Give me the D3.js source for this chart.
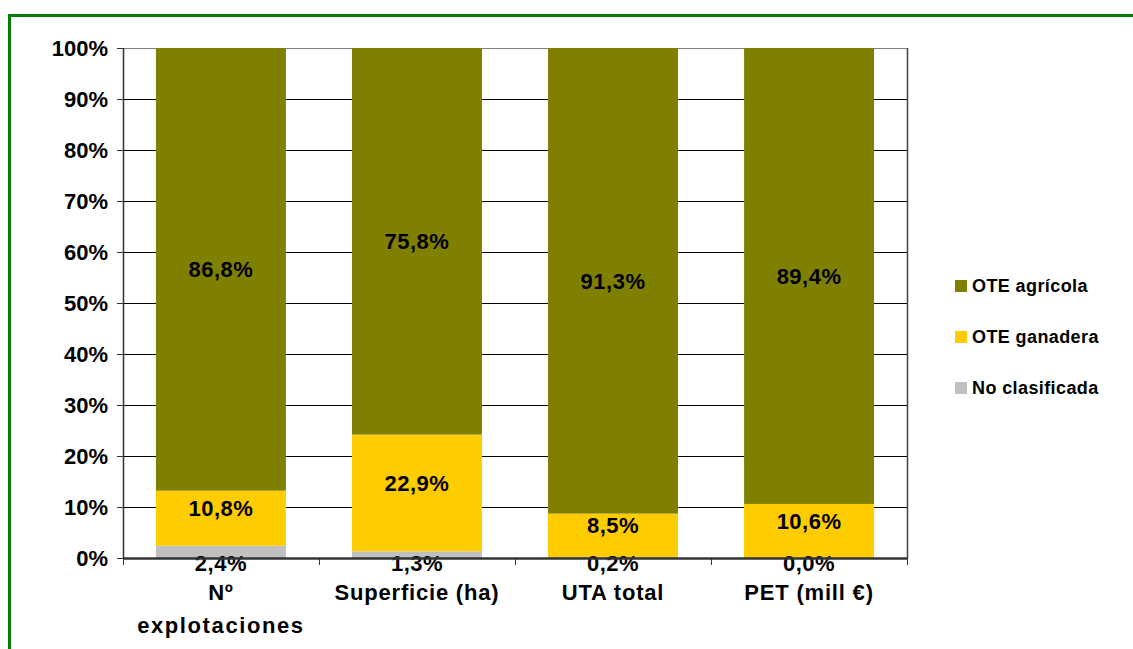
<!DOCTYPE html>
<html>
<head>
<meta charset="utf-8">
<script src="https://cdn.jsdelivr.net/npm/d3@7.9.0/dist/d3.min.js"></script>
<style>
  body { margin: 0; background: #fff; }
  svg { display: block; font-family: "Liberation Sans", Arial, sans-serif; font-weight: bold; }
</style>
</head>
<body>
<svg id="chart" width="1133" height="649"></svg>
<script>
// chart data
const categories = ["Nº explotaciones", "Superficie (ha)", "UTA total", "PET (mill €)"];
const agricola = [86.8, 75.8, 91.3, 89.4];
const ganadera = [10.8, 22.9, 8.5, 10.6];
const noClasificada = [2.4, 1.3, 0.2, 0.0];
const seriesNames = ["No clasificada", "OTE ganadera", "OTE agrícola"];
const seriesColors = ["#c0c0c0", "#ffcc00", "#808000"];
const yTicks = [0, 10, 20, 30, 40, 50, 60, 70, 80, 90, 100];

const rows = categories.map((c, i) => ({
  cat: c,
  "No clasificada": noClasificada[i],
  "OTE ganadera": ganadera[i],
  "OTE agrícola": agricola[i]
}));

const W = 1133, H = 649;
const margin = { top: 48, right: 226, bottom: 91, left: 123 };
const w = W - margin.left - margin.right;
const h = H - margin.top - margin.bottom;

const svg = d3.select("#chart");

// green frame (top and left only)
svg.append("path")
  .attr("d", `M9.5,${H} L9.5,15.5 L${W},15.5`)
  .attr("fill", "none")
  .attr("stroke", "#008000")
  .attr("stroke-width", 3);

const g = svg.append("g").attr("transform", `translate(${margin.left},${margin.top})`);

const x = d3.scaleBand().domain(categories).range([0, w]).paddingInner(0.337).paddingOuter(0.168);
const y = d3.scaleLinear().domain([0, 100]).range([h, 0]);

// gridlines
g.selectAll(".grid").data(yTicks.filter(d => d > 0)).join("line")
  .attr("x1", 0).attr("x2", w)
  .attr("y1", d => Math.round(y(d)) + 0.5).attr("y2", d => Math.round(y(d)) + 0.5)
  .attr("stroke", d => d === 100 ? "#808080" : "#000")
  .attr("stroke-width", 1);

// right border of plot
g.append("line")
  .attr("x1", w + 0.5).attr("x2", w + 0.5).attr("y1", 0).attr("y2", h)
  .attr("stroke", "#404040").attr("stroke-width", 1.5);

// stacked bars
const stack = d3.stack().keys(seriesNames);
const stacked = stack(rows);
const fmt = v => d3.format(".1f")(v).replace(".", ",") + "%";

stacked.forEach((layer, li) => {
  g.append("g").selectAll("rect").data(layer).join("rect")
    .attr("x", d => x(d.data.cat))
    .attr("width", x.bandwidth())
    .attr("y", d => y(d[1]))
    .attr("height", d => y(d[0]) - y(d[1]))
    .attr("fill", seriesColors[li]);
});

// data labels
stacked.forEach((layer, li) => {
  g.append("g").selectAll("text").data(layer).join("text")
    .attr("x", d => x(d.data.cat) + x.bandwidth() / 2)
    .attr("y", d => {
      if (li === 0) return y(0) + 5;
      const mid = (y(d[0]) + y(d[1])) / 2;
      return li === 1 ? mid - 10 : mid;
    })
    .attr("dy", "0.35em")
    .attr("text-anchor", "middle")
    .attr("font-size", 22)
    .attr("letter-spacing", 0.5)
    .attr("fill", "#000")
    .text(d => fmt(d.data[layer.key]));
});

// y axis
g.append("line")
  .attr("x1", 0.5).attr("x2", 0.5).attr("y1", 0).attr("y2", h)
  .attr("stroke", "#333").attr("stroke-width", 1.5);
g.selectAll(".ytick").data(yTicks).join("line")
  .attr("x1", -6).attr("x2", 0)
  .attr("y1", d => Math.round(y(d)) + 0.5).attr("y2", d => Math.round(y(d)) + 0.5)
  .attr("stroke", "#333");
g.selectAll(".ylab").data(yTicks).join("text")
  .attr("x", -15)
  .attr("y", d => y(d))
  .attr("dy", "0.35em")
  .attr("text-anchor", "end")
  .attr("font-size", 22)
  .text(d => d + "%");

// x axis
g.append("line")
  .attr("x1", 0).attr("x2", w).attr("y1", h + 0.5).attr("y2", h + 0.5)
  .attr("stroke", "#333").attr("stroke-width", 2.5);
const bounds = categories.map(c => x(c) - x.step() * x.paddingInner() / 2).concat([w]);
bounds[0] = 0;
g.selectAll(".xtick").data(bounds).join("line")
  .attr("x1", d => Math.round(d) + 0.5).attr("x2", d => Math.round(d) + 0.5)
  .attr("y1", h).attr("y2", h + 7)
  .attr("stroke", "#333");

// category labels, wrapped when wider than the bar area
const catLabels = g.selectAll(".xlab").data(categories).join("text")
  .attr("x", d => x(d) + x.bandwidth() / 2)
  .attr("y", h + 42)
  .attr("text-anchor", "middle")
  .attr("font-size", 22)
  .attr("letter-spacing", 0.8);
catLabels.each(function (d) {
  const t = d3.select(this);
  t.text(d);
  if (this.getComputedTextLength() > 170 && d.includes(" ")) {
    const words = d.split(" ");
    t.text(null);
    words.forEach((wd, i) => {
      t.append("tspan")
        .attr("x", x(d) + x.bandwidth() / 2)
        .attr("dy", i === 0 ? 0 : 33)
        .attr("letter-spacing", i === 0 ? 0.8 : 1.6)
        .text(wd);
    });
  }
});

// legend
const legendItems = seriesNames.slice().reverse();
const legendColors = seriesColors.slice().reverse();
const lg = svg.append("g").attr("transform", "translate(955,286)");
legendItems.forEach((name, i) => {
  lg.append("rect")
    .attr("x", 0).attr("y", i * 51 - 6)
    .attr("width", 12).attr("height", 12)
    .attr("fill", legendColors[i]);
  lg.append("text")
    .attr("x", 17).attr("y", i * 51)
    .attr("dy", "0.35em")
    .attr("font-size", 18)
    .attr("letter-spacing", 0.4)
    .text(name);
});
</script>
</body>
</html>
